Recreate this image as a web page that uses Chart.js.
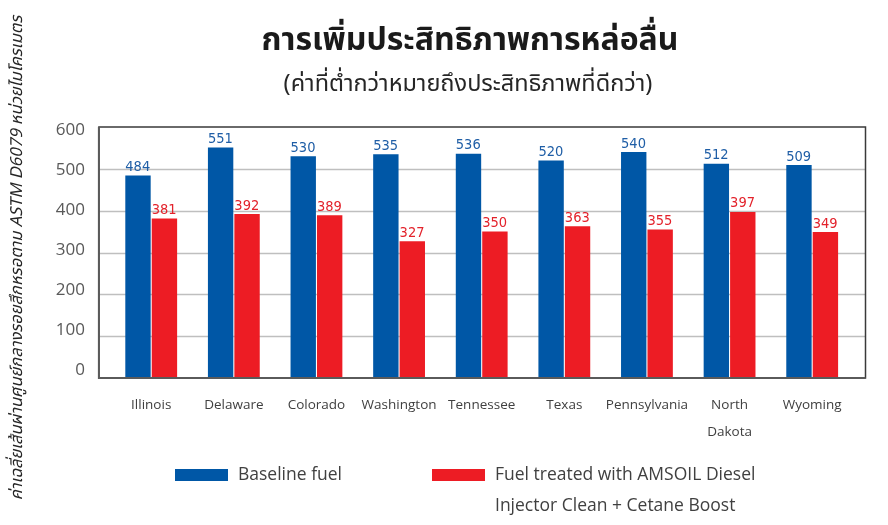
<!DOCTYPE html>
<html><head><meta charset="utf-8">
<script src="https://cdn.jsdelivr.net/npm/chart.js@4.4.0/dist/chart.umd.min.js"></script>
<style>html,body{margin:0;padding:0;background:#fff;}#wrap{width:888px;height:525px;position:relative;}</style>
</head><body><div id="wrap"><canvas id="c"></canvas></div>
<script>
const categories = ['Illinois','Delaware','Colorado','Washington','Tennessee','Texas','Pennsylvania','North Dakota','Wyoming'];
const baseline = [484,551,530,535,536,520,540,512,509];
const treated = [381,392,389,327,350,363,355,397,349];
const yTicks = [0,100,200,300,400,500,600];
const seriesNames = ['Baseline fuel', 'Fuel treated with AMSOIL Diesel Injector Clean + Cetane Boost'];
const legendLines = [['Baseline fuel'], ['Fuel treated with AMSOIL Diesel','Injector Clean + Cetane Boost']];
const titleText = 'การเพิ่มประสิทธิภาพการหล่อลื่น';
const subtitleText = '(ค่าที่ต่ำกว่าหมายถึงประสิทธิภาพที่ดีกว่า)';
const yTitleText = 'ค่าเฉลี่ยเส้นผ่านศูนย์กลางรอยสึกหรอตาม ASTM D6079 หน่วยไมโครเมตร';

const BLUE = '#0057A6', RED = '#ED1C24';
const BLUE_TXT = '#1F5EA6', RED_TXT = '#E3222B';
const THAI = "'Noto Sans Thai','Noto Sans','DejaVu Sans',sans-serif";
const LAT = "'Open Sans','Noto Sans',sans-serif";

const FRAME_EXT_L = 11, FRAME_EXT_R = 12;

const framePlugin = {
  id: 'frame',
  beforeDatasetsDraw(chart) {
    const {ctx, chartArea: a, scales: {y}} = chart;
    const l = a.left - FRAME_EXT_L, r = a.right + FRAME_EXT_R;
    ctx.save();
    ctx.strokeStyle = '#BFBFBF';
    ctx.lineWidth = 1.6;
    yTicks.forEach(v => {
      if (v === 0 || v === 600) return;
      const py = Math.round(y.getPixelForValue(v)) + 0.5;
      ctx.beginPath(); ctx.moveTo(l, py); ctx.lineTo(r, py); ctx.stroke();
    });
    ctx.restore();
  },
  afterDatasetsDraw(chart) {
    const {ctx, chartArea: a, scales: {y}} = chart;
    const l = a.left - FRAME_EXT_L, r = a.right + FRAME_EXT_R;
    const t = y.getPixelForValue(600), b = y.getPixelForValue(0);
    ctx.save();
    ctx.strokeStyle = '#3a3a3a';
    ctx.lineWidth = 1.5;
    ctx.strokeRect(l, t, r - l, b - t);
    ctx.strokeStyle = '#5a5a5a';
    ctx.lineWidth = 2;
    ctx.beginPath(); ctx.moveTo(l, t); ctx.lineTo(l, b); ctx.lineTo(r, b); ctx.stroke();
    // value labels
    ctx.font = "14.5px 'DejaVu Sans Condensed','DejaVu Sans',sans-serif";
    ctx.textAlign = 'left';
    ctx.textBaseline = 'bottom';
    chart.data.datasets.forEach((ds, i) => {
      const meta = chart.getDatasetMeta(i);
      ctx.fillStyle = i === 0 ? BLUE_TXT : RED_TXT;
      meta.data.forEach((bar, j) => {
        const p = bar.getProps(['x','y','width'], true);
        ctx.fillText(String(ds.data[j]), p.x - p.width / 2, p.y - 1);
      });
    });
    ctx.restore();
  },
  afterDraw(chart) {
    const {ctx} = chart;
    ctx.save();
    // titles
    ctx.textAlign = 'center';
    ctx.textBaseline = 'middle';
    ctx.fillStyle = '#1a1a1a';
    ctx.font = "bold 32px " + THAI;
    ctx.fillText(titleText, 470, 44);
    ctx.fillStyle = '#262626';
    ctx.font = "23.5px " + THAI;
    ctx.fillText(subtitleText, 468, 86);
    // y axis title
    ctx.save();
    ctx.translate(19, 258);
    ctx.rotate(-Math.PI / 2);
    ctx.font = "italic 16.5px " + THAI;
    ctx.fillStyle = '#262626';
    ctx.fillText(yTitleText, 0, 0);
    ctx.restore();
    // legend
    ctx.font = "17.5px " + LAT;
    ctx.textAlign = 'left';
    const items = [{x: 175}, {x: 432}];
    chart.data.datasets.forEach((ds, i) => {
      const it = items[i];
      ctx.fillStyle = ds.backgroundColor;
      ctx.fillRect(it.x, 469, 53, 12);
      ctx.fillStyle = '#404040';
      legendLines[i].forEach((line, k) => ctx.fillText(line, it.x + 63, 475 + k * 31));
    });
    ctx.restore();
  }
};

new Chart(document.getElementById('c'), {
  type: 'bar',
  data: {
    labels: categories.map(c => c.includes(' ') ? c.split(' ') : c),
    datasets: [
      {label: seriesNames[0], data: baseline, backgroundColor: BLUE, categoryPercentage: 0.64, barPercentage: 0.96},
      {label: seriesNames[1], data: treated, backgroundColor: RED, categoryPercentage: 0.64, barPercentage: 0.96}
    ]
  },
  options: {
    responsive: true,
    maintainAspectRatio: false,
    animation: false,
    layout: {padding: {left: 0, right: 34.5, top: 127, bottom: 0}},
    plugins: {
      legend: {display: false},
      tooltip: {enabled: false},
      title: {display: false},
      subtitle: {display: false}
    },
    scales: {
      x: {
        grid: {display: false, drawTicks: false}, border: {display: false},
        ticks: {font: {family: LAT, size: 13.5, lineHeight: 27/13.5}, color: '#404040', padding: 13.5, maxRotation: 0, autoSkip: false},
        afterFit: s => { s.height = 147; }
      },
      y: {display: false, min: 0, max: 600},
      yTick: {
        position: 'left', min: -20.8, max: 608.8,
        grid: {display: false, drawTicks: false}, border: {display: false},
        afterBuildTicks: s => { s.ticks = yTicks.map(v => ({value: v})); },
        afterFit: s => { s.width = 109.9; },
        ticks: {font: {family: LAT, size: 17}, color: '#595959', padding: 25},
        title: {display: false}
      }
    }
  },
  plugins: [framePlugin]
});
</script></body></html>
